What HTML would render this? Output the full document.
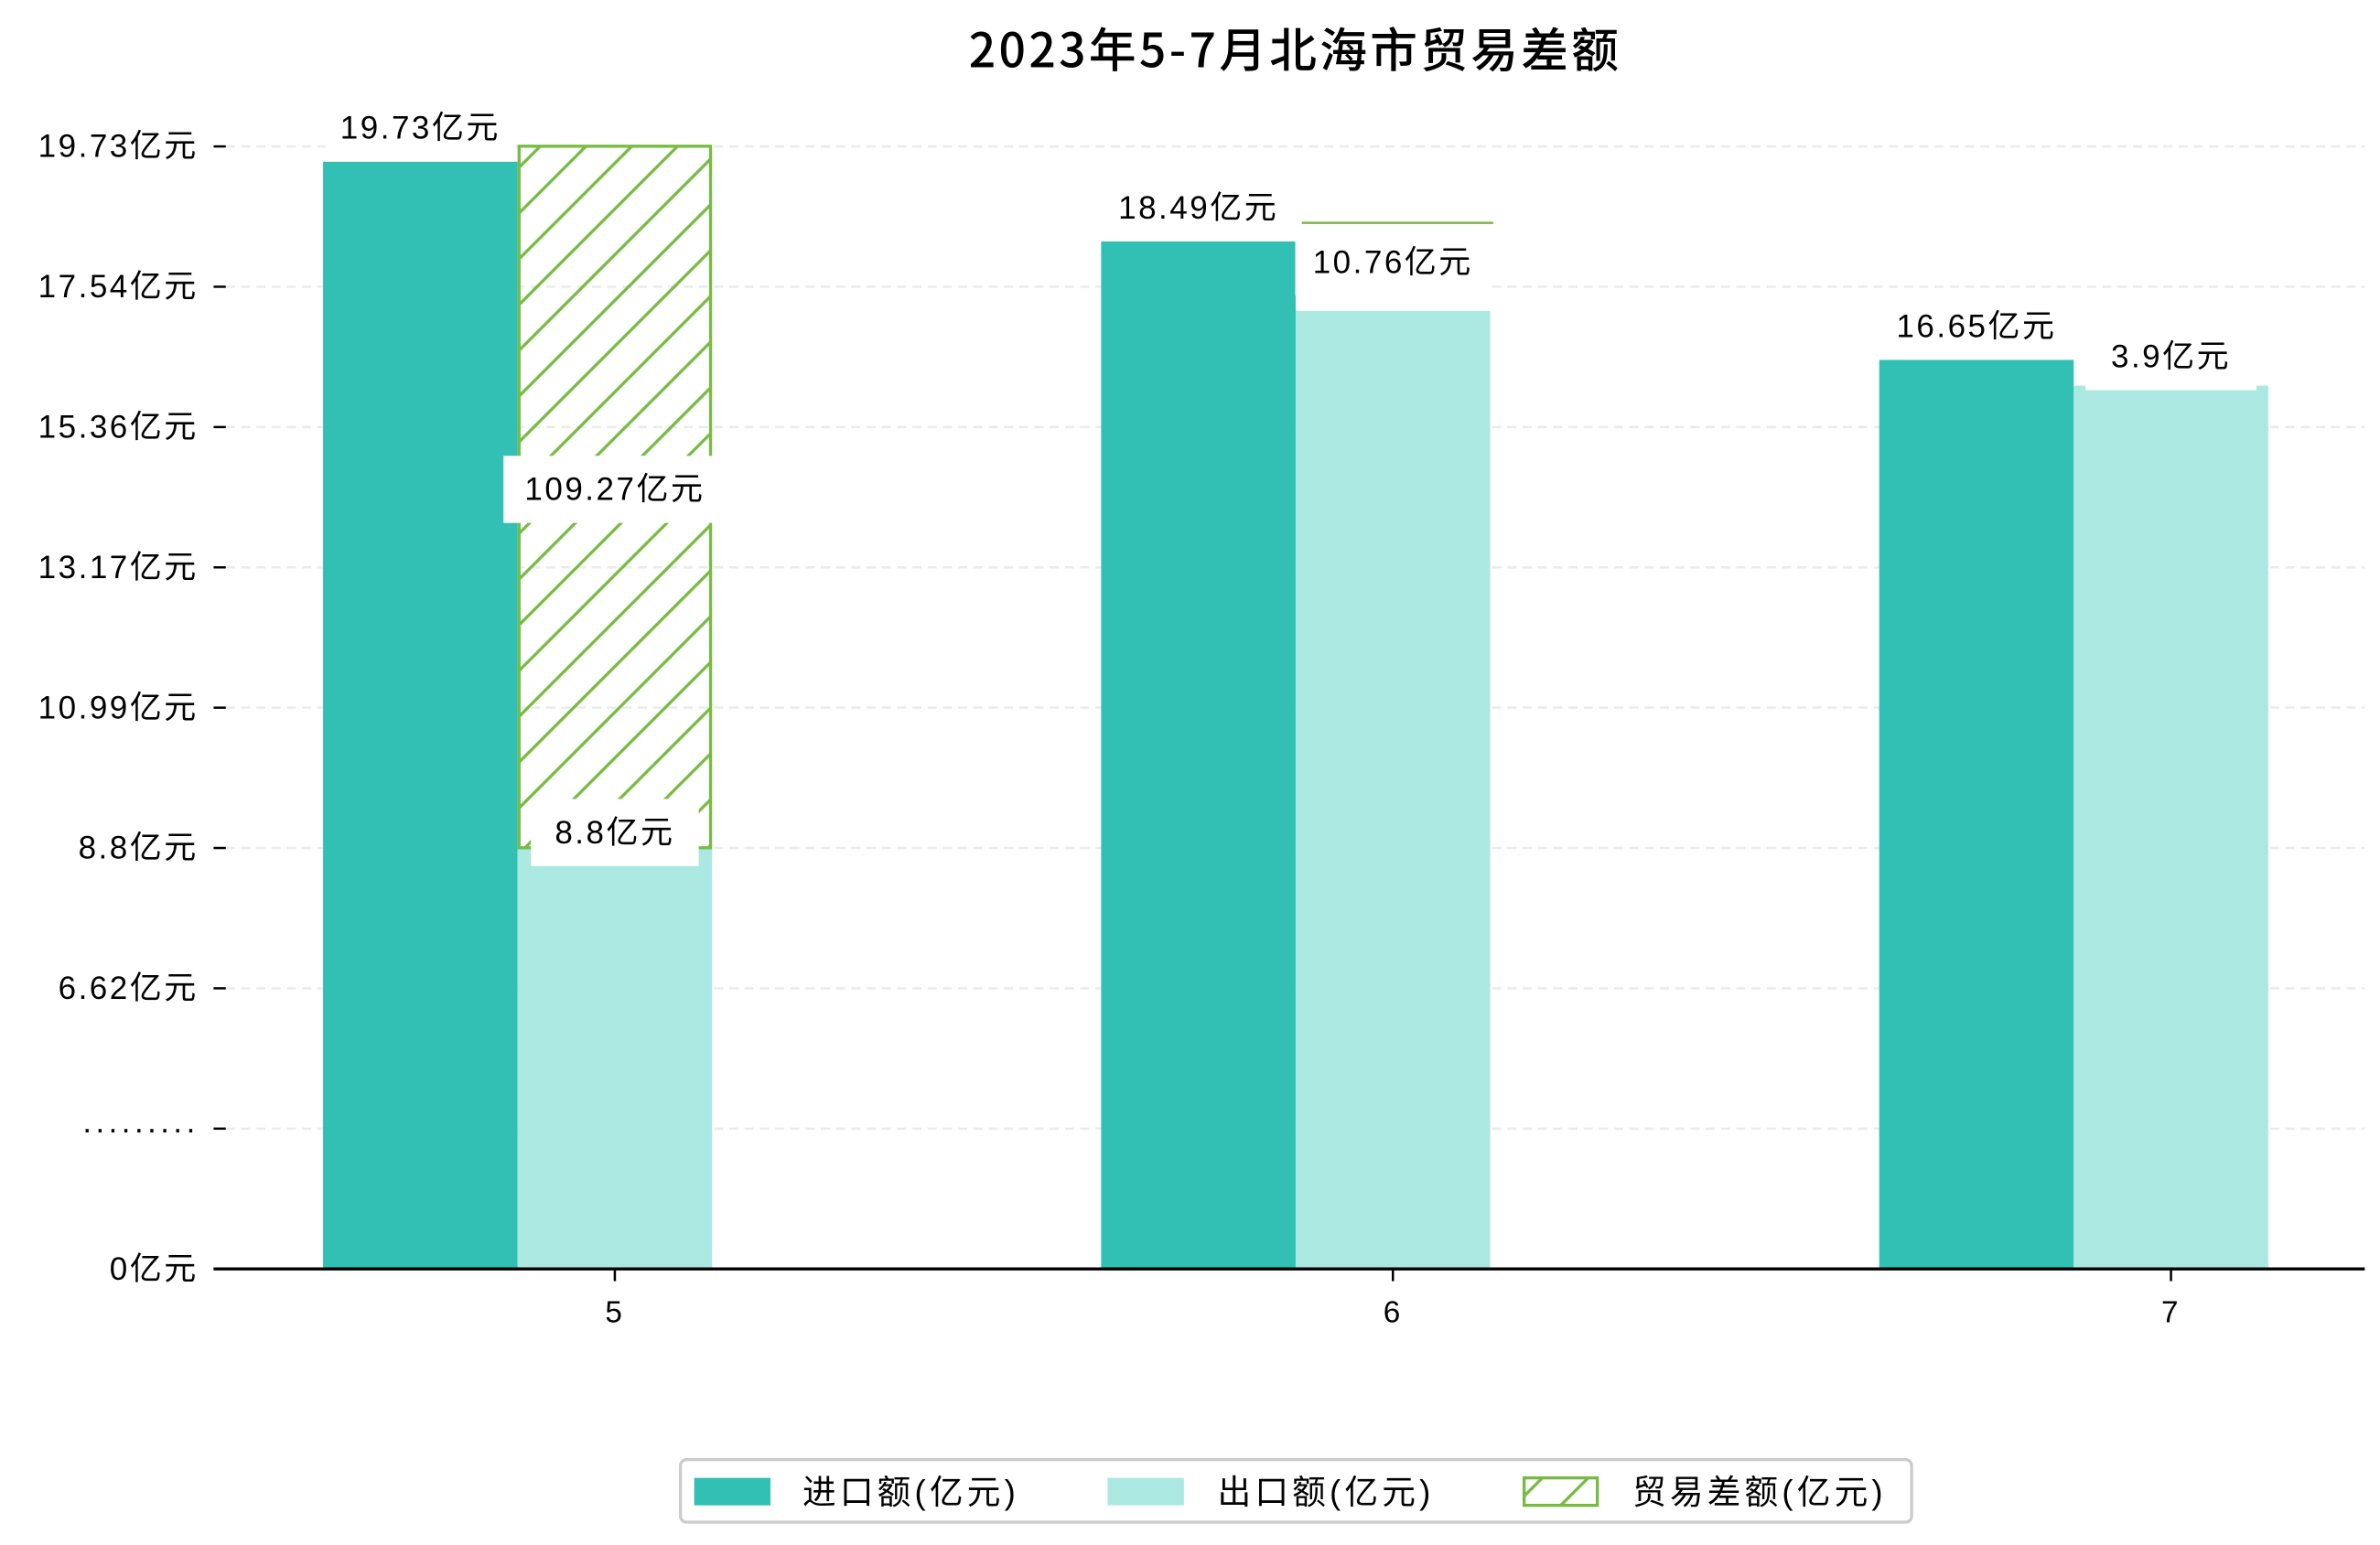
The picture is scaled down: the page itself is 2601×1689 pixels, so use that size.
<!DOCTYPE html>
<html><head><meta charset="utf-8"><style>
html,body{margin:0;padding:0;background:#fff;}
svg{display:block;font-family:"Liberation Sans","Noto Sans CJK SC",sans-serif;}
svg text{letter-spacing:1.5px;}
</style></head><body>
<svg id="chart" width="2601" height="1689" viewBox="0 0 1560 1013" xmlns="http://www.w3.org/2000/svg">
<defs>
<pattern id="hatch" patternUnits="userSpaceOnUse" width="30" height="30">
<path d="M-5,5 L5,-5 M0,30 L30,0 M25,35 L35,25" stroke="#77bb44" stroke-width="2"/>
</pattern>
</defs>
<text x="849" y="44" text-anchor="middle" font-size="31" font-weight="500" fill="#000" style="letter-spacing:2px" font-family="Noto Sans CJK SC, Liberation Sans, sans-serif">2023年5-7月北海市贸易差额</text>
<g id="grid"></g><g id="bars"></g><g id="labels"></g><g id="axes"></g>
<g>
<rect x="446" y="957" width="807" height="41" rx="4" fill="#fff" stroke="#ccc" stroke-width="2"/>
<rect x="455" y="969" width="50" height="18" fill="#31c0b3"/>
<text x="526" y="986" font-size="22" style="letter-spacing:2.5px">进口额(亿元)</text>
<rect x="726" y="969" width="50" height="18" fill="#abe8e2"/>
<text x="798" y="986" font-size="22" style="letter-spacing:2.5px">出口额(亿元)</text>
<rect x="999" y="969" width="48" height="18" fill="url(#hatch)" stroke="#77bb44" stroke-width="2"/>
<text x="1070" y="986" font-size="22" style="letter-spacing:2.5px">贸易差额(亿元)</text>
</g>
</svg>
<script>
const categories = ['5','6','7'];
const importValues = [19.73, 18.49, 16.65];
const exportValues = [9.07, 17.41, 16.25];
const balanceTop = [19.97, 18.78, 16.25];
const balanceBottom = [9.07, 18.78, 16.25];
const importLabels = ['19.73亿元','18.49亿元','16.65亿元'];
const exportLabels = ['8.8亿元','10.76亿元','3.9亿元'];
const balanceLabels = ['109.27亿元','',''];
const yTickLabels = ['19.73亿元','17.54亿元','15.36亿元','13.17亿元','10.99亿元','8.8亿元','6.62亿元','·········','0亿元'];

const NS='http://www.w3.org/2000/svg';
const x0=140,x1=1550,base=832;
function yScale(v){return 938.6-42.2*v;}
function xCenter(i){return 403+510*i;}
const bw=127.5;
function mk(tag,attrs,parent){const e=document.createElementNS(NS,tag);for(const k in attrs)e.setAttribute(k,attrs[k]);parent.appendChild(e);return e;}
const grid=document.getElementById('grid'),bars=document.getElementById('bars'),labels=document.getElementById('labels'),axes=document.getElementById('axes');
yTickLabels.forEach((t,i)=>{
  const y=96+92*i;
  if(i<yTickLabels.length-1){
    const g=mk('line',{x1:148,x2:x1,y1:y,y2:y,stroke:'#ebebeb','stroke-width':1.5,'stroke-dasharray':'6,4'},grid);
    
    
  }
  const tk=mk('line',{x1:140,x2:148,y1:y,y2:y,stroke:'#000','stroke-width':1.5},axes);
  
  
  const tl=mk('text',{x:130,y:y+7,'text-anchor':'end','font-size':21},axes);
  tl.textContent=t;
  
  
});
function labelBox(cx,cy,w,text,name){
  const r=mk('rect',{x:cx-w/2,y:cy-22,width:w,height:44,fill:'#fff'},labels);
  
  
  const t=mk('text',{x:cx,y:cy+7,'text-anchor':'middle','font-size':21},labels);
  t.textContent=text;
  
  
}
categories.forEach((c,i)=>{
  const cx=xCenter(i);
  const yi=yScale(importValues[i]);
  const b1=mk('rect',{x:cx-1.5*bw,y:yi,width:bw,height:base-yi,fill:'#31c0b3'},bars);
  
  
  const ye=yScale(exportValues[i]);
  const b2=mk('rect',{x:cx-bw/2,y:ye,width:bw,height:base-ye,fill:'#abe8e2'},bars);
  
  
  const yt=yScale(balanceTop[i]),yb=yScale(balanceBottom[i]);
  const bx=cx-bw/2+1+(i>0?3:0);
  if(yb-yt>0.5){
    const b3=mk('rect',{x:bx,y:yt,width:bw-2,height:yb-yt,fill:'url(#hatch)',stroke:'#77bb44','stroke-width':2},bars);
    
    
  } else if(i===1){
    const b3=mk('line',{x1:bx,x2:bx+bw-2,y1:yt,y2:yt,stroke:'#77bb44','stroke-width':1.5},bars);
    
    
  }
  labelBox(cx-bw,yi-22,124,importLabels[i],'import-value-label-'+c);
  if(i===0){
    labelBox(cx,ye-10,110,exportLabels[i],'export-value-label-'+c);
    labelBox(cx,(yt+yb)/2-5,146,balanceLabels[i],'balance-value-label-'+c);
  } else {
    labelBox(cx,ye-32+(i===2?13:0),i===1?128:112,exportLabels[i],'export-value-label-'+c);
  }
  const xt=mk('line',{x1:cx,x2:cx,y1:base,y2:base+8,stroke:'#000','stroke-width':1.5},axes);
  
  
  const xl=mk('text',{x:cx,y:867,'text-anchor':'middle','font-size':20},axes);
  xl.textContent=c;
  
  
});
const ax=mk('line',{x1:x0,x2:x1,y1:base,y2:base,stroke:'#000','stroke-width':2},axes);


</script>
</body></html>
